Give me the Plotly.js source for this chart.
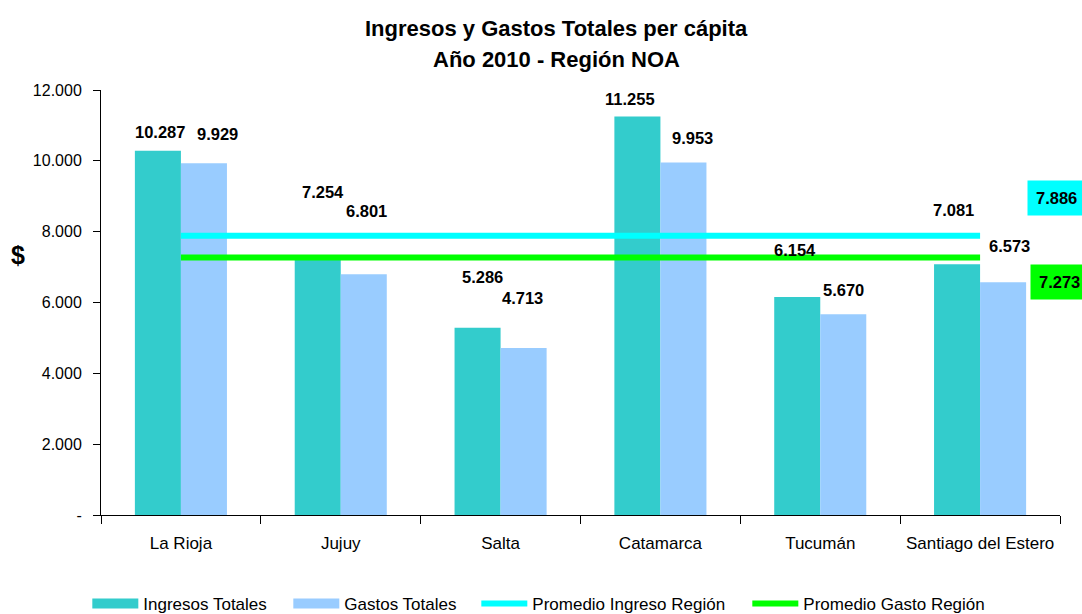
<!DOCTYPE html>
<html>
<head>
<meta charset="utf-8">
<script src="https://cdn.plot.ly/plotly-3.0.1.min.js"></script>
<style>html,body{margin:0;padding:0;background:#fff;}#chart{width:1082px;height:614px;}</style>
</head>
<body>
<div id="chart"></div>
<script>
// ---- data ----
const provincias = ["La Rioja", "Jujuy", "Salta", "Catamarca", "Tucumán", "Santiago del Estero"];
const ingresosTotales = [10287, 7254, 5286, 11255, 6154, 7081];
const gastosTotales = [9929, 6801, 4713, 9953, 5670, 6573];
const promedioIngreso = 7886;
const promedioGasto = 7273;
const yTickVals = [0, 2000, 4000, 6000, 8000, 10000, 12000];
const yTickText = ["-", "2.000", "4.000", "6.000", "8.000", "10.000", "12.000"];
const seriesNames = ["Ingresos Totales", "Gastos Totales", "Promedio Ingreso Región", "Promedio Gasto Región"];

// label offsets (pixels) as placed in the original
const ingLabelDx = [-21, -18, -18, -30, -25, -27];
const ingLabelDy = [19, 66, 51, 17, 47, 54];
const gasLabelDx = [37, 26, 22, 32, 23, 29];
const gasLabelDy = [29, 63, 50, 25, 24, 36];
// legend entry text widths (px)
const legendW = [140, 127, 210, 180];

function fmt(v) {
  const s = String(Math.round(v));
  return s.replace(/\B(?=(\d{3})+(?!\d))/g, ".");
}

const FONT = "Liberation Sans, Arial, sans-serif";
const C_ING = "#33CCCC", C_GAS = "#99CCFF", C_PI = "#00FFFF", C_PG = "#00FF00";

const traces = [
  {
    type: "bar", name: seriesNames[0], x: provincias, y: ingresosTotales,
    marker: { color: C_ING, line: { width: 0 } }, showlegend: false
  },
  {
    type: "bar", name: seriesNames[1], x: provincias, y: gastosTotales,
    marker: { color: C_GAS, line: { width: 0 } }, showlegend: false
  },
  // legend-only entries for the bar series (box-like swatches)
  {
    type: "scatter", mode: "lines", name: seriesNames[0], x: [null], y: [null],
    line: { color: C_ING, width: 14 }, showlegend: true, legendwidth: legendW[0]
  },
  {
    type: "scatter", mode: "lines", name: seriesNames[1], x: [null], y: [null],
    line: { color: C_GAS, width: 14 }, showlegend: true, legendwidth: legendW[1]
  },
  {
    type: "scatter", mode: "lines", name: seriesNames[2], x: provincias,
    y: provincias.map(() => promedioIngreso),
    line: { color: C_PI, width: 6 }, cliponaxis: false, legendwidth: legendW[2]
  },
  {
    type: "scatter", mode: "lines", name: seriesNames[3], x: provincias,
    y: provincias.map(() => promedioGasto),
    line: { color: C_PG, width: 6 }, cliponaxis: false, legendwidth: legendW[3]
  }
];

const annotations = [];
provincias.forEach((p, i) => {
  annotations.push({
    x: p, y: ingresosTotales[i], xref: "x", yref: "y", text: "<b>" + fmt(ingresosTotales[i]) + "</b>",
    showarrow: false, xanchor: "center", yanchor: "middle",
    xshift: ingLabelDx[i], yshift: ingLabelDy[i],
    font: { family: FONT, size: 16.5, color: "#000" }
  });
  annotations.push({
    x: p, y: gastosTotales[i], xref: "x", yref: "y", text: "<b>" + fmt(gastosTotales[i]) + "</b>",
    showarrow: false, xanchor: "center", yanchor: "middle",
    xshift: gasLabelDx[i], yshift: gasLabelDy[i],
    font: { family: FONT, size: 16.5, color: "#000" }
  });
});
// average value boxes
annotations.push({
  x: 1, xref: "paper", y: promedioIngreso, yref: "y", text: "<b>" + fmt(promedioIngreso) + "</b>",
  showarrow: false, xanchor: "center", yanchor: "middle", xshift: -4, yshift: 38,
  bgcolor: C_PI, borderpad: 8,
  font: { family: FONT, size: 16.5, color: "#000" }
});
annotations.push({
  x: 1, xref: "paper", y: promedioGasto, yref: "y", text: "<b>" + fmt(promedioGasto) + "</b>",
  showarrow: false, xanchor: "center", yanchor: "middle", xshift: -1, yshift: -25,
  bgcolor: C_PG, borderpad: 8,
  font: { family: FONT, size: 16.5, color: "#000" }
});
// "$" axis label
annotations.push({
  x: 0, xref: "paper", y: 0.612, yref: "paper", text: "<b>$</b>", showarrow: false,
  xanchor: "center", yanchor: "middle", xshift: -83,
  font: { family: FONT, size: 25, color: "#000" }
});
// second title line
annotations.push({
  x: 0.4745, xref: "paper", y: 1.0706, yref: "paper",
  text: "<b>Año 2010 - Región NOA</b>", showarrow: false,
  xanchor: "center", yanchor: "middle",
  font: { family: FONT, size: 22, color: "#000" }
});

const layout = {
  width: 1082, height: 614,
  paper_bgcolor: "#fff", plot_bgcolor: "#fff",
  font: { family: FONT, size: 16, color: "#000" },
  margin: { l: 101, r: 22, t: 90, b: 99, pad: 0 },
  title: {
    text: "<b>Ingresos y Gastos Totales per cápita</b>",
    x: 0.514, xref: "container", xanchor: "center",
    y: 1 - 28 / 614, yref: "container", yanchor: "middle",
    font: { family: FONT, size: 22, color: "#000" }
  },
  barmode: "group", bargap: 0.424, bargroupgap: 0,
  separators: ",.",
  xaxis: {
    type: "category", showgrid: false, zeroline: false,
    showline: true, linecolor: "#000", linewidth: 1,
    ticks: "outside", tickson: "boundaries", ticklen: 8, tickcolor: "#000",
    ticklabelstandoff: 13,
    tickfont: { family: FONT, size: 17, color: "#000" }
  },
  yaxis: {
    range: [0, 12000], showgrid: false, zeroline: false,
    showline: true, linecolor: "#000", linewidth: 1,
    ticks: "outside", ticklen: 7, tickcolor: "#000",
    tickvals: yTickVals, ticktext: yTickText,
    ticklabelstandoff: 8,
    tickfont: { family: FONT, size: 16, color: "#000" }
  },
  showlegend: true,
  legend: {
    orientation: "h", xref: "container", x: 0.0807, xanchor: "left",
    yref: "container", y: 10 / 614, yanchor: "middle",
    itemwidth: 46, traceorder: "normal",
    font: { family: FONT, size: 17, color: "#000" },
    bgcolor: "rgba(0,0,0,0)"
  },
  annotations: annotations
};

Plotly.newPlot("chart", traces, layout, { displayModeBar: false, staticPlot: true });
</script>
</body>
</html>
